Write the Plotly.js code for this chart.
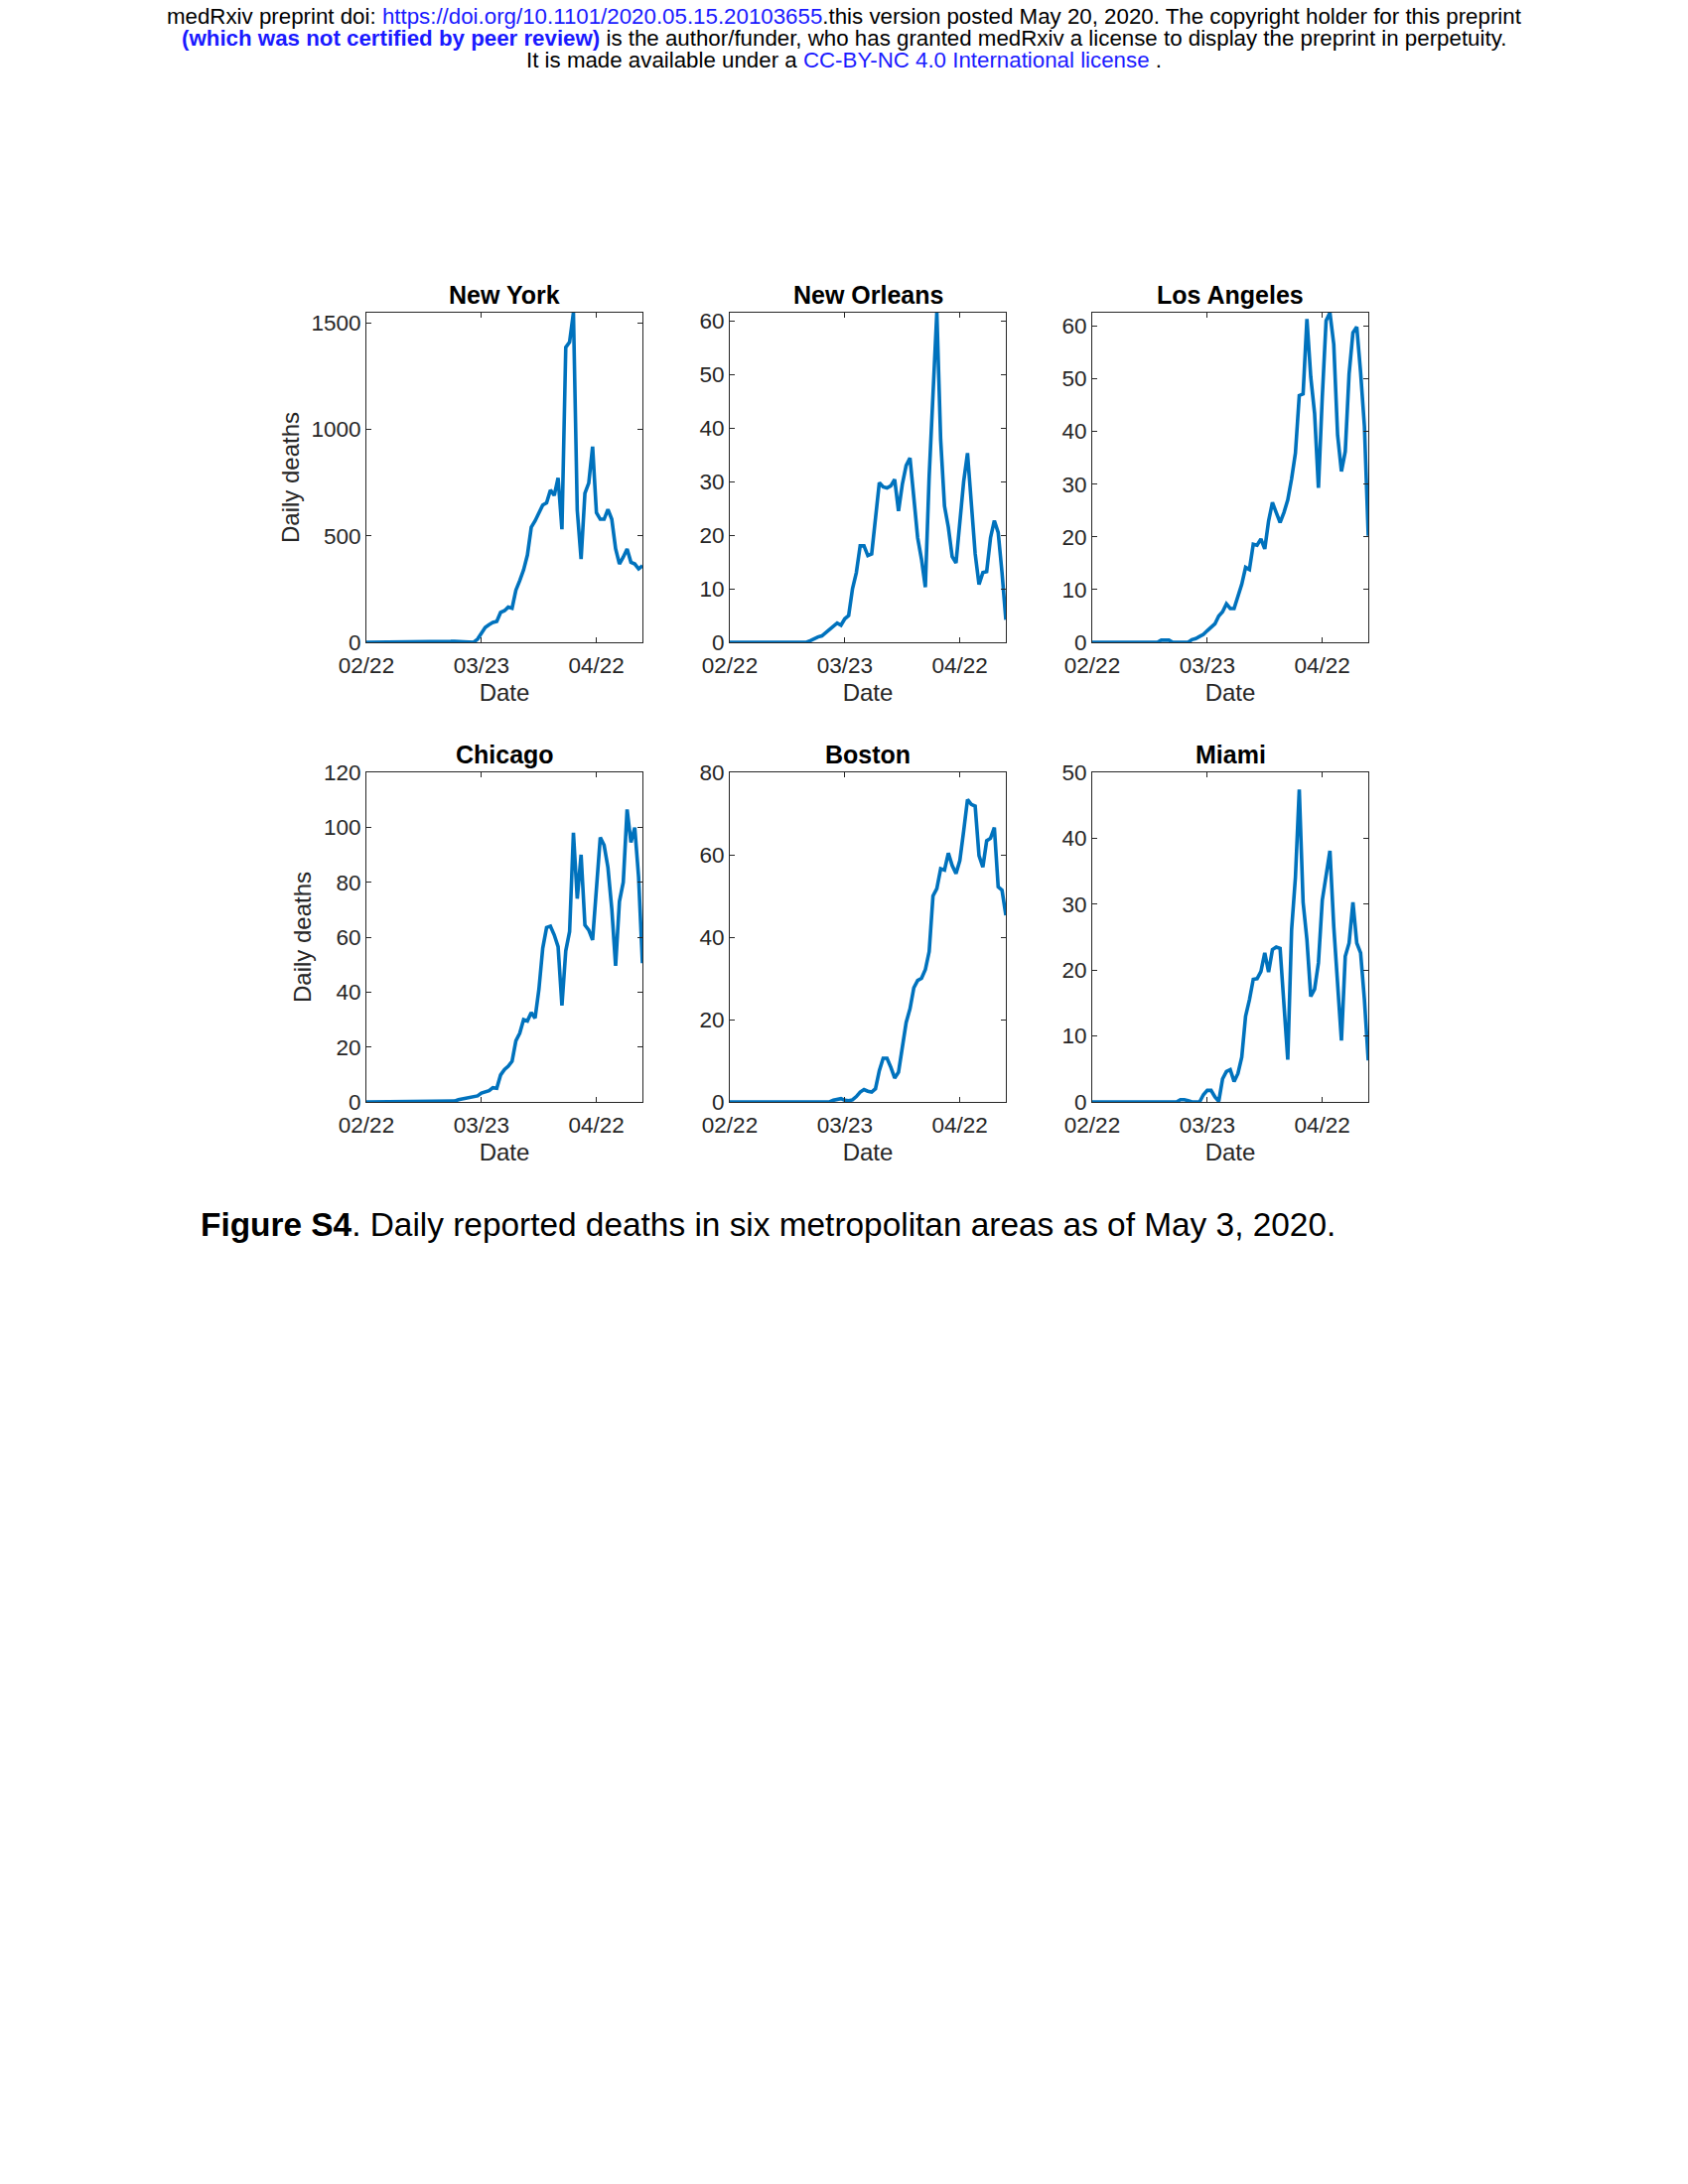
<!DOCTYPE html>
<html><head><meta charset="utf-8">
<script src="https://cdn.plot.ly/plotly-3.0.1.min.js"></script>
<style>html,body{margin:0;padding:0;background:#fff}</style>
</head><body>
<div id="chart" style="width:1700px;height:2200px"></div>
<script>
// ---------------- data ----------------
const startDate = '2020-02-22';
const cities = ['New York', 'New Orleans', 'Los Angeles', 'Chicago', 'Boston', 'Miami'];
const tickDates = ['2020-02-22', '2020-03-23', '2020-04-22'];
const tickLabels = ['02/22', '03/23', '04/22'];
const xRangeEnd = '2020-05-04';

const newYork = [0,0,0,0,0,0,0,0,0,0, 0,0,0,0,0,0,0,0,0,0, 0,2,4,5,4,2,1,0,0,15,
  45,70,83,93,98,140,148,165,160,245, 290,340,410,540,570,610,645,655,715,690,
  772,531,1385,1410,1548,620,391,700,748,919, 609,578,578,624,578,440,368,400,438,376,
  368,345,360];
const newOrleans = [0,0,0,0,0,0,0,0,0,0, 0,0,0,0,0,0,0,0,0,0, 0,0.3,0.7,1,1.2,1.8,2.3,3,3.6,3.2,
  4.4,5,10,13,18,18,16.2,16.5,24,29.8, 29,28.8,29.2,30.4,24.5,29.5,33,34.4,27,19.5,
  15.5,10.3,31,48,61.5,37.8,25.4,21.5,16,14.8, 22,30,35.3,25,16.5,10.8,13,13.2,19.5,22.7,
  20.5,13,4.2];
const losAngeles = [0,0,0,0,0,0,0,0,0,0, 0,0,0,0,0,0,0,0,0.4,0.4, 0.4,0,0,0,0,0,0.5,0.7,1.1,1.5,
  2.2,2.9,3.5,5,5.8,7.3,6.4,6.4,8.5,11, 14.2,13.8,18.6,18.4,19.6,17.7,23,26.5,24.6,22.7,
  24.6,27,31,35.9,46.8,47.1,61.3,50.3,43.4,29.3, 46.5,61,62.5,56.5,39.3,32.4,36.2,50.9,58.7,59.8,
  51.2,40.9,20.2];
const chicago = [0,0,0,0,0,0,0,0,0,0, 0,0,0,0,0,0,0,0,0,0, 0,0,0,0.3,0.8,1.1,1.3,1.5,1.8,2.2,
  3.2,3.7,4.1,5.2,5,9.8,11.8,13,14.8,22.3, 25,30,29.5,32.5,30.5,41,56,63.5,64,60.8,
  56.5,35.1,55,62,98,74,90,64.4,62.6,59, 75.8,96.3,93.5,85.4,70.4,49.6,73,80,106.5,94.5,
  99.9,81.8,50.5];
const boston = [0,0,0,0,0,0,0,0,0,0, 0,0,0,0,0,0,0,0,0,0, 0,0,0,0,0,0,0,0.4,0.6,0.8,
  0.4,0.3,0.5,1.3,2.4,3,2.6,2.4,3.2,7.6, 10.6,10.6,8.4,5.8,7.2,13.6,19.3,22.6,27.7,29.5,
  30,32.1,36.5,50,51.8,56.6,56.3,60.4,57.4,55.4, 58.6,65.8,73.4,72.2,71.8,59.8,57,63.4,64,66.6,
  52.2,51.4,45.3];
const miami = [0,0,0,0,0,0,0,0,0,0, 0,0,0,0,0,0,0,0,0,0, 0,0,0,0.35,0.35,0.2,0,0,0,1.1,
  1.75,1.75,0.75,0.1,3.5,4.6,4.9,3.1,4.3,6.8, 13,15.5,18.6,18.7,19.8,22.6,19.7,23.1,23.5,23.3,
  14.5,6.4,26.1,34.1,47.4,30.3,24.6,16,17.1,21.1, 30.6,34.6,38.1,26.6,18.1,9.3,22.1,24.1,30.3,24.1,
  22.6,15.5,6.3];

const yTicks = {
  'New York': [0, 500, 1000, 1500],
  'New Orleans': [0, 10, 20, 30, 40, 50, 60],
  'Los Angeles': [0, 10, 20, 30, 40, 50, 60],
  'Chicago': [0, 20, 40, 60, 80, 100, 120],
  'Boston': [0, 20, 40, 60, 80],
  'Miami': [0, 10, 20, 30, 40, 50]
};
const yMaxFixed = {'Chicago': 120, 'Boston': 80, 'Miami': 50};

const xLabel = 'Date';
const yLabel = 'Daily deaths';
const caption = 'Figure S4';
const captionRest = '. Daily reported deaths in six metropolitan areas as of May 3, 2020.';

// ---------------- build ----------------
const series = [newYork, newOrleans, losAngeles, chicago, boston, miami];
function dateList(n) {
  const out = [];
  const d0 = new Date(startDate + 'T00:00:00Z');
  for (let i = 0; i < n; i++) {
    const d = new Date(d0.getTime() + i * 86400000);
    out.push(d.toISOString().slice(0, 10));
  }
  return out;
}

const W = 1700, H = 2200;
const colLeft = [369, 735, 1100];
const rowTop = [315, 778];
const pw = 278, ph = 332;
const lineColor = '#0072BD';
const axColor = '#262626';
const fontFam = 'Liberation Sans, Arial, Helvetica, sans-serif';
const tickSize = 22.5, labelSize = 24, titleSize = 25;

const traces = [];
const layout = {
  width: W, height: H,
  margin: {l: 0, r: 0, t: 0, b: 0},
  paper_bgcolor: '#fff', plot_bgcolor: '#fff',
  showlegend: false,
  font: {family: fontFam, color: axColor},
  annotations: []
};

series.forEach((ys, i) => {
  const r = Math.floor(i / 3), c = i % 3;
  const sfx = i === 0 ? '' : String(i + 1);
  traces.push({
    type: 'scatter', mode: 'lines',
    x: dateList(ys.length), y: ys,
    xaxis: 'x' + sfx, yaxis: 'y' + sfx,
    line: {color: lineColor, width: 3.6},
    hoverinfo: 'skip'
  });
  const x0 = colLeft[c] / W, x1 = (colLeft[c] + pw) / W;
  const y1 = 1 - rowTop[r] / H, y0 = 1 - (rowTop[r] + ph) / H;
  const city = cities[i];
  const yMax = yMaxFixed[city] !== undefined ? yMaxFixed[city] : Math.max(...ys);
  const common = {
    showline: true, linecolor: axColor, linewidth: 1, mirror: 'ticks',
    ticks: 'inside', ticklen: 5, tickwidth: 1, tickcolor: axColor,
    showgrid: false, zeroline: false, fixedrange: true,
    tickfont: {family: fontFam, size: tickSize, color: axColor}
  };
  layout['xaxis' + sfx] = Object.assign({}, common, {
    domain: [x0, x1], anchor: 'y' + sfx, type: 'date',
    range: [startDate, xRangeEnd],
    tickmode: 'array', tickvals: tickDates, ticktext: tickLabels,
    ticklabelstandoff: 3,
    title: {text: xLabel, font: {family: fontFam, size: labelSize, color: axColor}, standoff: 7}
  });
  const yax = Object.assign({}, common, {
    domain: [y0, y1], anchor: 'x' + sfx,
    range: [0, yMax],
    tickmode: 'array', tickvals: yTicks[city], ticktext: yTicks[city].map(String)
  });
  if (c === 0) yax.title = {text: yLabel, font: {family: fontFam, size: labelSize, color: axColor}, standoff: 5};
  layout['yaxis' + sfx] = yax;
  layout.annotations.push({
    xref: 'paper', yref: 'paper', x: (x0 + x1) / 2, y: y1,
    xanchor: 'center', yanchor: 'bottom', yshift: 2, showarrow: false,
    text: '<b>' + city + '</b>',
    font: {family: fontFam, size: titleSize, color: '#000'}
  });
});

// header lines
const blue = '#1a1aff';
const header = [
  'medRxiv preprint doi: <span style="color:' + blue + '">https://doi.org/10.1101/2020.05.15.20103655</span>.this version posted May 20, 2020. The copyright holder for this preprint',
  '<span style="color:' + blue + '"><b>(which was not certified by peer review)</b></span> is the author/funder, who has granted medRxiv a license to display the preprint in perpetuity.',
  'It is made available under a <span style="color:' + blue + '">CC-BY-NC 4.0 International license</span> .'
];
const headerY = [17, 39, 61];
header.forEach((t, k) => {
  layout.annotations.push({
    xref: 'paper', yref: 'paper', x: 850 / W, y: 1 - headerY[k] / H,
    xanchor: 'center', yanchor: 'middle', showarrow: false,
    text: t, font: {family: fontFam, size: 22.3, color: '#000'}
  });
});
layout.annotations.push({
  xref: 'paper', yref: 'paper', x: 200 / W, y: 1 - 1233 / H,
  xanchor: 'left', yanchor: 'middle', showarrow: false,
  text: '<b>' + caption + '</b>' + captionRest,
  font: {family: fontFam, size: 33.4, color: '#000'}
});

Plotly.newPlot('chart', traces, layout, {staticPlot: true, displayModeBar: false});
</script>
</body></html>
